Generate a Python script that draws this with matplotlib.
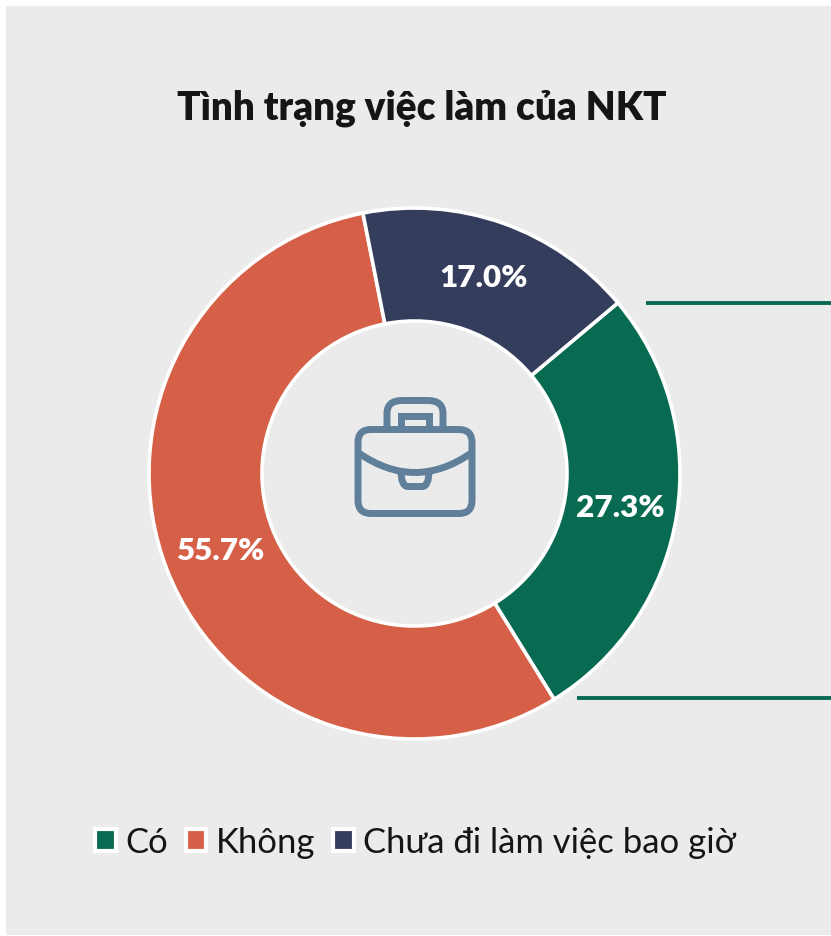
import matplotlib
matplotlib.use('Agg')
import matplotlib.pyplot as plt
import numpy as np
from matplotlib.patches import Patch, Rectangle, FancyBboxPatch, PathPatch
from matplotlib.path import Path

plt.rcParams['font.family'] = ['Lato', 'Open Sans', 'DejaVu Sans']

# data
categories = ['Có', 'Không', 'Chưa đi làm việc bao giờ']
values = [27.3, 55.7, 17.0]
colors = ['#086b51', '#d66047', '#343d5c']
title = 'Tình trạng việc làm của NKT'

W, H = 831, 937
SHIFT = 1.5  # everything sat a bit too high
fig = plt.figure(figsize=(W / 100, H / 100), dpi=100, facecolor='white')

# overlay in image pixels, y going down
bg = fig.add_axes([0, 0, 1, 1], zorder=0)
bg.set_xlim(0, W)
bg.set_ylim(H - SHIFT, -SHIFT)
bg.axis('off')
bg.add_patch(Rectangle((6, 5), W - 6, 929, facecolor='#ebebeb', edgecolor='none'))

# donut
ax = fig.add_axes([0, 0, 1, 1], zorder=1)
ax.patch.set_alpha(0)
wedges, texts, pcts = ax.pie(values, colors=colors, startangle=40, counterclock=False,
                             center=(414.5, H - 473 - SHIFT), radius=265.5,
                             wedgeprops=dict(width=113, edgecolor='white', linewidth=2.6),
                             autopct='%.1f%%', pctdistance=0.785,
                             textprops=dict(color='white', fontsize=22.6, fontweight='heavy'))
ax.set_xlim(0, W)
ax.set_ylim(0, H)
ax.axis('off')

top = fig.add_axes([0, 0, 1, 1], zorder=2)
top.patch.set_alpha(0)
top.set_xlim(0, W)
top.set_ylim(H - SHIFT, -SHIFT)
top.axis('off')

top.text(422, 107, title, ha='center', va='center', fontsize=27.8, fontweight='heavy', color='#151515')

# callout lines to the right of the green slice
top.plot([646, W], [302, 302], color=colors[0], lw=2.8, solid_capstyle='butt')
top.plot([577, W], [697, 697], color=colors[0], lw=2.8, solid_capstyle='butt')

# briefcase icon
icon = '#5f7f9a'
lw = 5
top.add_patch(FancyBboxPatch((368, 439), 94, 64, boxstyle='round,pad=10,rounding_size=13',
                             fill=False, edgecolor=icon, lw=lw))
handle_curve = Path([(387, 429), (387, 413), (387, 400), (402, 400), (428, 400),
                     (443, 400), (443, 413), (443, 429)],
                    [Path.MOVETO, Path.LINETO, Path.CURVE3, Path.CURVE3, Path.LINETO,
                     Path.CURVE3, Path.CURVE3, Path.LINETO])
top.add_patch(PathPatch(handle_curve, fill=False, edgecolor=icon, lw=lw))
top.add_patch(PathPatch(Path([(401, 429), (401, 415), (429, 415), (429, 429)]),
                        fill=False, edgecolor=icon, lw=lw))
top.add_patch(PathPatch(Path([(358, 452), (415, 492), (472, 452)],
                             [Path.MOVETO, Path.CURVE3, Path.CURVE3]),
                        fill=False, edgecolor=icon, lw=lw))
clasp = Path([(401, 470), (401, 486), (408, 486), (422, 486), (429, 486), (429, 470)],
             [Path.MOVETO, Path.CURVE3, Path.CURVE3, Path.LINETO, Path.CURVE3, Path.CURVE3])
top.add_patch(PathPatch(clasp, fill=False, edgecolor=icon, lw=lw))

# legend
handles = [Patch(facecolor=c, edgecolor='white', linewidth=3) for c in colors]
leg = top.legend(handles, categories, loc='center', bbox_to_anchor=(415.5, 842),
                 bbox_transform=top.transData, ncol=3, frameon=False, fontsize=24.9,
                 handlelength=0.6, handleheight=0.6, handletextpad=0.27,
                 columnspacing=0.52, labelcolor='#151515', borderpad=0, borderaxespad=0)

fig.savefig('out.png', dpi=100, facecolor='white')
